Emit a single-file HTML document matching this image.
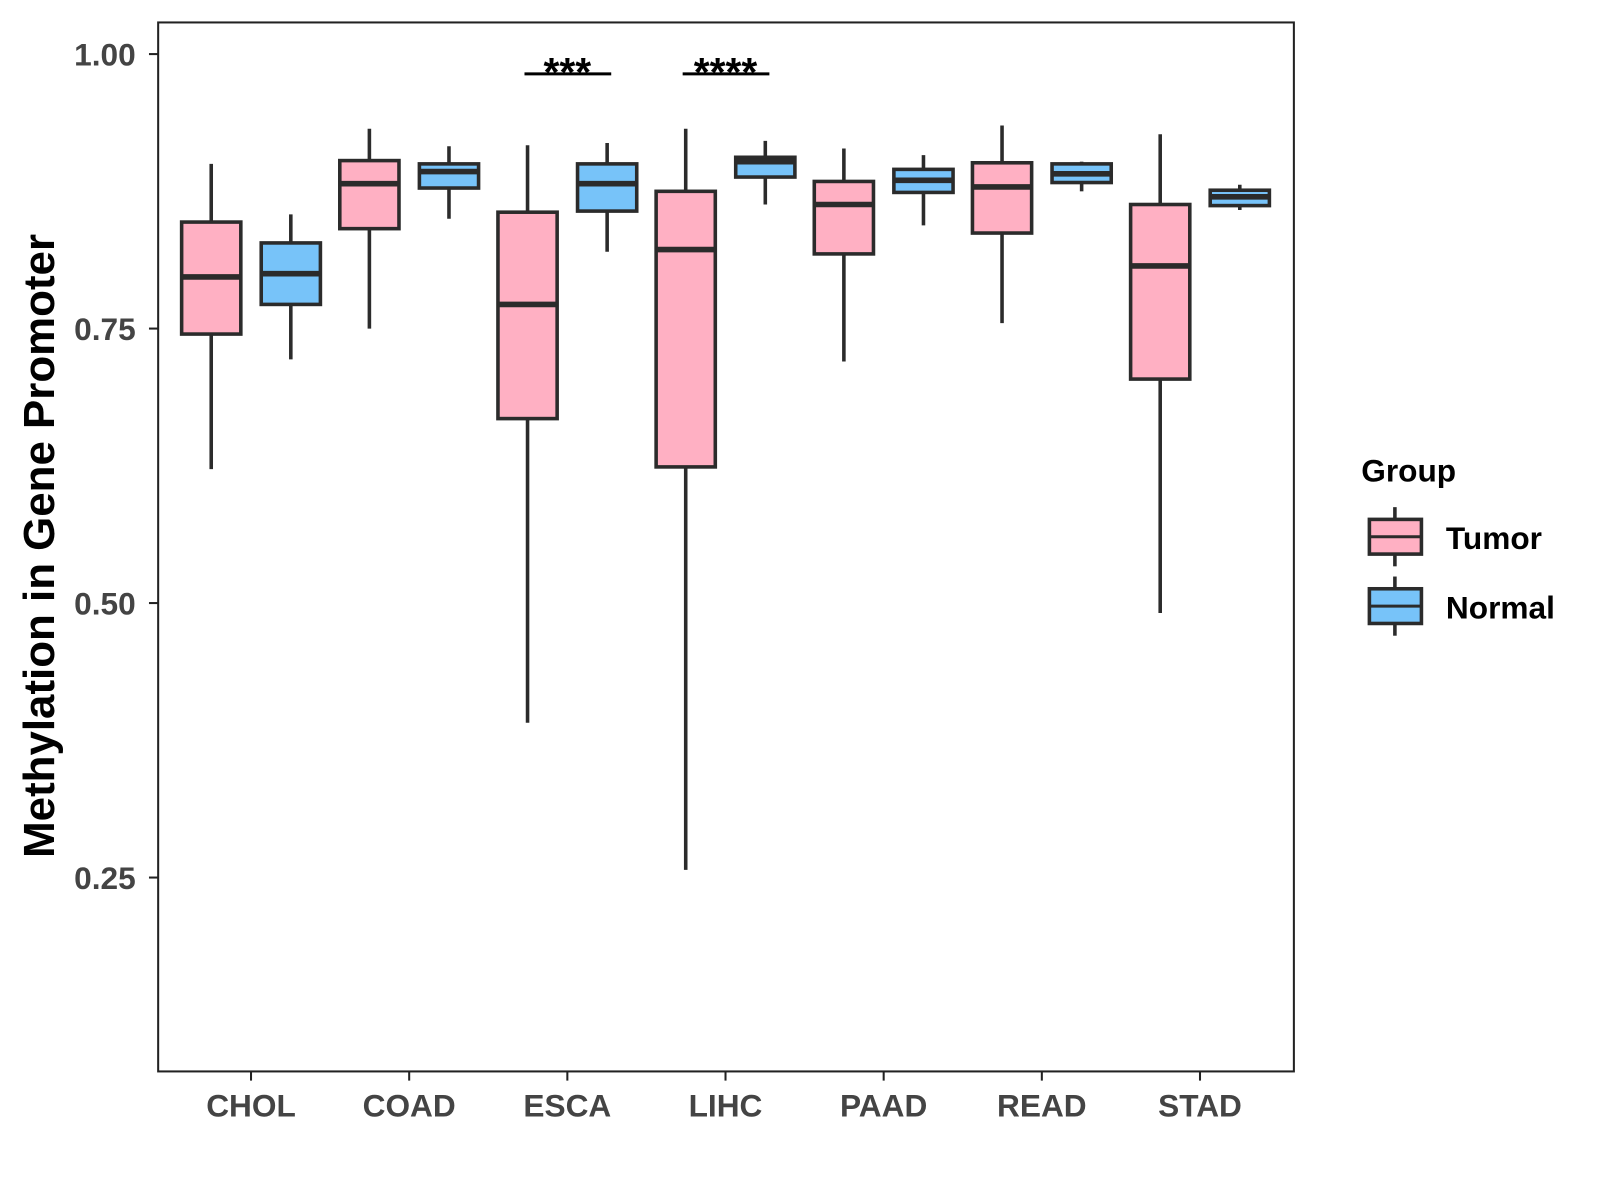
<!DOCTYPE html>
<html><head><meta charset="utf-8"><style>
body{margin:0;background:#fff;width:1600px;height:1200px;overflow:hidden}
svg{font-family:"Liberation Sans",Arial,sans-serif;font-weight:bold;display:block}
</style></head><body>
<svg id="chart" width="1600" height="1200" viewBox="0 0 1568 1176">
<rect x="155" y="22" width="1113" height="1028" fill="#fff" stroke="#222" stroke-width="2"/>
<g id="boxes"></g><g id="axes"></g>
<text x="38" y="535" font-size="43" fill="#000" text-anchor="middle" transform="rotate(-90 38 535)" dy="15">Methylation in Gene Promoter</text>
<g>
<text x="1334" y="472" font-size="31" fill="#000">Group</text>
<g>
<line x1="1367" y1="497" x2="1367" y2="555" stroke="#2b2b2b" stroke-width="3.5"/>
<rect x="1342" y="509" width="51" height="34" fill="#FFB0C3" stroke="#2b2b2b" stroke-width="3.5"/>
<line x1="1342" y1="526" x2="1393" y2="526" stroke="#2b2b2b" stroke-width="3"/>
<text x="1417" y="538" font-size="31" fill="#000">Tumor</text></g>
<g>
<line x1="1367" y1="565" x2="1367" y2="623" stroke="#2b2b2b" stroke-width="3.5"/>
<rect x="1342" y="577" width="51" height="34" fill="#77C3F9" stroke="#2b2b2b" stroke-width="3.5"/>
<line x1="1342" y1="594" x2="1393" y2="594" stroke="#2b2b2b" stroke-width="3"/>
<text x="1417" y="606" font-size="31" fill="#000">Normal</text></g>
</g>
</svg>
<script>
const categories=["CHOL","COAD","ESCA","LIHC","PAAD","READ","STAD"];
const tumorStats=[[0.622,0.745,0.797,0.847,0.900],[0.750,0.841,0.882,0.903,0.932],[0.391,0.668,0.772,0.856,0.917],[0.257,0.624,0.822,0.875,0.932],[0.720,0.818,0.863,0.884,0.914],[0.755,0.837,0.879,0.901,0.935],[0.491,0.704,0.807,0.863,0.927]];
const normalStats=[[0.722,0.772,0.800,0.828,0.854],[0.850,0.878,0.893,0.900,0.916],[0.820,0.857,0.882,0.900,0.919],[0.863,0.888,0.902,0.906,0.921],[0.844,0.874,0.885,0.895,0.908],[0.875,0.883,0.891,0.900,0.902],[0.858,0.862,0.870,0.876,0.881]];
const yTicks=[0.25,0.50,0.75,1.00];
const yTickLabels=["0.25","0.50","0.75","1.00"];
const sigCategories=["ESCA","LIHC"];
const sigLabels=["***","****"];
const sigLevel=0.982;
const NS="http://www.w3.org/2000/svg";
const y=v=>53+(1-v)*1076;
const x=i=>246+i*155;
function mk(t,a,p){const e=document.createElementNS(NS,t);for(const k in a)e.setAttribute(k,a[k]);p.appendChild(e);return e;}
const B=document.getElementById('boxes'),A=document.getElementById('axes');
function box(cx,s,fill,name){
 const g=mk('g',{},B);
 
 
 mk('line',{x1:cx,x2:cx,y1:y(s[4]),y2:y(s[0]),stroke:'#2b2b2b','stroke-width':3.5},g);
 mk('rect',{x:cx-29,y:y(s[3]),width:58,height:y(s[1])-y(s[3]),fill:fill,stroke:'#2b2b2b','stroke-width':3.5},g);
 mk('line',{x1:cx-29,x2:cx+29,y1:y(s[2]),y2:y(s[2]),stroke:'#2b2b2b','stroke-width':5.5},g);
}
categories.forEach((c,i)=>{
 box(x(i)-39,tumorStats[i],'#FFB0C3','box-tumor-'+c.toLowerCase());
 box(x(i)+39,normalStats[i],'#77C3F9','box-normal-'+c.toLowerCase());
 mk('line',{x1:x(i),x2:x(i),y1:1050,y2:1059,stroke:'#222','stroke-width':2},A);
 const t=mk('text',{x:x(i),y:1094,'font-size':31,fill:'#444','text-anchor':'middle'},A);
 
 
 t.textContent=c;
});
yTicks.forEach((v,i)=>{
 mk('line',{x1:146,x2:155,y1:y(v),y2:y(v),stroke:'#222','stroke-width':2},A);
 const t=mk('text',{x:133,y:y(v)+11,'font-size':31,fill:'#444','text-anchor':'end'},A);
 
 
 t.textContent=yTickLabels[i];
});
sigCategories.forEach((c,j)=>{
 const i=categories.indexOf(c);
 const g=mk('g',{},A);
 
 
 mk('line',{x1:x(i)-42,x2:x(i)+43,y1:y(sigLevel),y2:y(sigLevel),stroke:'#000','stroke-width':3},g);
 const t=mk('text',{x:x(i),y:y(sigLevel)+12,'font-size':40,fill:'#000','text-anchor':'middle'},g);
 t.textContent=sigLabels[j];
});
</script>
</body></html>
